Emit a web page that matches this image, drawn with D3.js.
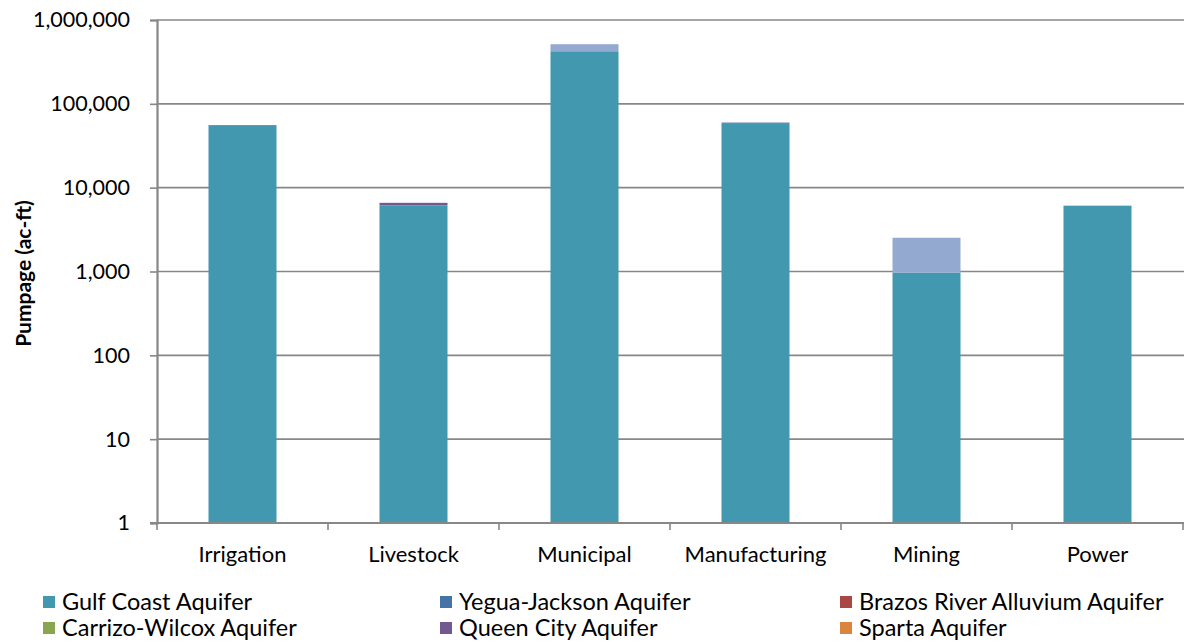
<!DOCTYPE html>
<html>
<head>
<meta charset="utf-8">
<script src="https://cdn.jsdelivr.net/npm/d3@7"></script>
<style>
  html, body { margin: 0; padding: 0; background: #fff; }
  svg { display: block; }
  text { font-family: Lato, "Open Sans", sans-serif; fill: #000; }
</style>
</head>
<body>
<svg id="chart" width="1184" height="643"></svg>
<script>
// Water use categories
const categories = ["Irrigation", "Livestock", "Municipal", "Manufacturing", "Mining", "Power"];

// Pumpage by aquifer (ac-ft), one value per category
const gulfCoast       = [55000, 6150, 424000, 59000, 965, 6100];
const yeguaJackson    = [0, 60, 0, 0, 0, 0];
const brazosAlluvium  = [900, 0, 0, 0, 0, 0];
const carrizoWilcox   = [0, 0, 0, 0, 0, 0];
const queenCity       = [0, 380, 0, 0, 0, 0];
const sparta          = [0, 0, 0, 0, 0, 0];
const otherAquifer    = [0, 0, 90000, 1200, 1560, 0];

const seriesNames  = ["Gulf Coast Aquifer", "Yegua-Jackson Aquifer", "Brazos River Alluvium Aquifer",
                      "Carrizo-Wilcox Aquifer", "Queen City Aquifer", "Sparta Aquifer", "Other Aquifer"];
const seriesValues = [gulfCoast, yeguaJackson, brazosAlluvium, carrizoWilcox, queenCity, sparta, otherAquifer];
const seriesColors = ["#4198AF", "#4572A7", "#AA4643", "#89A54E", "#71588F", "#DB843D", "#93A9CF"];

// Legend shows the first six series, three per row
const legendNames = seriesNames.slice(0, 6);

const yTicks = [1, 10, 100, 1000, 10000, 100000, 1000000];

const svg = d3.select("#chart");
const margin = { left: 157, right: 1, top: 20, bottom: 120 };
const W = 1184, H = 643;
const plotBottom = H - margin.bottom; // 523

const x = d3.scaleBand().domain(categories).range([margin.left, W - margin.right]).paddingInner(0).paddingOuter(0);
const y = d3.scaleLog().domain([1, 1000000]).range([plotBottom, margin.top]);

const gridColor = "#878787";

// Horizontal gridlines
svg.append("g")
  .selectAll("line")
  .data(yTicks.slice(1))
  .join("line")
  .attr("x1", margin.left).attr("x2", W)
  .attr("y1", d => y(d)).attr("y2", d => y(d))
  .attr("stroke", gridColor).attr("stroke-width", 1.6);

// Stacked bars (cumulative within each category)
const barW = 68;
const stacked = categories.map((c, i) => {
  let base = 1;
  return seriesValues.map((vals, s) => {
    const v = vals[i];
    const seg = { cat: c, s, y0: base, y1: base + v, v };
    base += v;
    return seg;
  }).filter(d => d.v > 0);
});

const barsG = svg.append("g");
stacked.forEach(segs => {
  barsG.selectAll(null)
    .data(segs)
    .enter()
    .append("rect")
    .attr("x", d => x(d.cat) + (x.bandwidth() - barW) / 2)
    .attr("width", barW)
    .attr("y", d => y(d.y1))
    .attr("height", d => Math.max(0, y(d.y0) - y(d.y1)))
    .attr("fill", d => seriesColors[d.s]);
});

// Y axis
const yAxis = d3.axisLeft(y)
  .tickValues(yTicks)
  .tickFormat(d3.format(","))
  .tickSize(7)
  .tickPadding(20);
const gy = svg.append("g")
  .attr("transform", `translate(${margin.left},0)`)
  .call(yAxis);
gy.select(".domain").attr("stroke", gridColor).attr("stroke-width", 2.2);
gy.selectAll(".tick line").attr("stroke", gridColor).attr("stroke-width", 1.6);
gy.selectAll(".tick text")
  .style("font-size", "21.5px")
  .style("font-family", "Lato, sans-serif")
  .attr("fill", "#000");

// X axis with tick marks on category boundaries
const gx = svg.append("g").attr("transform", `translate(0,${plotBottom})`);
gx.append("line")
  .attr("x1", margin.left - 7).attr("x2", W)
  .attr("y1", 0).attr("y2", 0)
  .attr("stroke", gridColor).attr("stroke-width", 2.2);
gx.selectAll("line.tk")
  .data(categories.concat(["__end"]))
  .join("line")
  .attr("class", "tk")
  .attr("x1", (d, i) => i < categories.length ? x(d) : W - margin.right)
  .attr("x2", (d, i) => i < categories.length ? x(d) : W - margin.right)
  .attr("y1", 0).attr("y2", 7)
  .attr("stroke", gridColor).attr("stroke-width", 1.6);
gx.selectAll("text")
  .data(categories)
  .join("text")
  .attr("x", d => x(d) + x.bandwidth() / 2)
  .attr("y", 39)
  .attr("text-anchor", "middle")
  .style("font-size", "22px")
  .text(d => d);

// Y axis title
svg.append("text")
  .attr("transform", `translate(31,${(margin.top + plotBottom) / 2 + 2}) rotate(-90)`)
  .attr("text-anchor", "middle")
  .style("font-size", "21px")
  .style("font-weight", "bold")
  .text("Pumpage (ac-ft)");

// Legend
const legendCols = [43, 440, 840];
const legendBaselines = [610, 636];
const lg = svg.append("g");
legendNames.forEach((name, i) => {
  const cx = legendCols[i % 3];
  const by = legendBaselines[Math.floor(i / 3)];
  lg.append("rect")
    .attr("x", cx).attr("y", by - 14)
    .attr("width", 12).attr("height", 12)
    .attr("fill", seriesColors[i]);
  lg.append("text")
    .attr("x", cx + 19).attr("y", by)
    .style("font-size", "23.5px")
    .text(name);
});
</script>
</body>
</html>
